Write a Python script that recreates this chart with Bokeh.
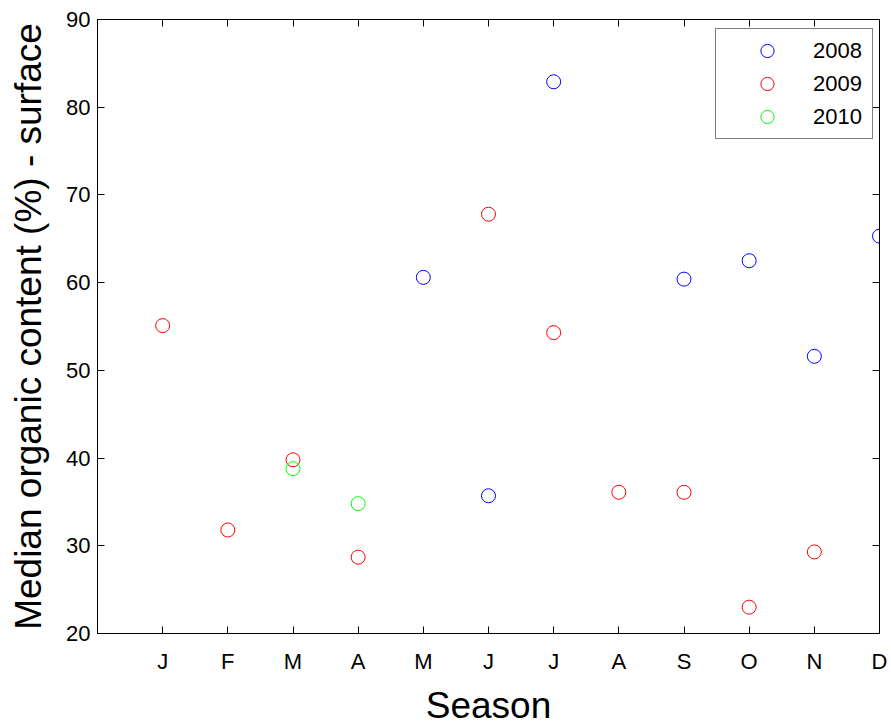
from bokeh.plotting import figure
from bokeh.models import LinearAxis, FixedTicker, Range1d, Legend, LegendItem
from bokeh.embed import file_html
from bokeh.resources import INLINE

month_ticks = [0, 1, 2, 3, 4, 5, 6, 7, 8, 9, 10, 11, 12]
month_labels = ["", "J", "F", "M", "A", "M", "J", "J", "A", "S", "O", "N", "D"]
y_ticks = [20, 30, 40, 50, 60, 70, 80, 90]

x2008 = [5, 6, 7, 9, 10, 11, 12]
y2008 = [60.6, 35.7, 82.9, 60.4, 62.5, 51.6, 65.3]
x2009 = [1, 2, 3, 4, 6, 7, 8, 9, 10, 11]
y2009 = [55.1, 31.8, 39.8, 28.7, 67.8, 54.3, 36.1, 36.1, 23.0, 29.3]
x2010 = [3, 4]
y2010 = [38.8, 34.8]

FONT = "Liberation Sans"

p = figure(width=891, height=728, output_backend="svg", toolbar_location=None,
           x_range=Range1d(0, 12), y_range=Range1d(20, 90),
           min_border_left=97, min_border_right=12, min_border_top=19, min_border_bottom=94)
p.xgrid.visible = False
p.ygrid.visible = False
p.outline_line_color = "black"
p.outline_line_width = 1
p.background_fill_color = "white"
p.border_fill_color = "white"

r1 = p.scatter(x2008, y2008, marker="circle", size=14, fill_color=None, line_color="#0000ff", line_width=1)
r2 = p.scatter(x2009, y2009, marker="circle", size=14, fill_color=None, line_color="#ff0000", line_width=1)
r3 = p.scatter(x2010, y2010, marker="circle", size=14, fill_color=None, line_color="#00ff00", line_width=1)

def style(ax, ticks, labels=None, show=True):
    ax.ticker = FixedTicker(ticks=ticks)
    ax.major_tick_in = 7
    ax.major_tick_out = 0
    ax.minor_tick_in = 0
    ax.minor_tick_out = 0
    ax.axis_line_color = "black"
    ax.major_tick_line_color = "black"
    if labels is not None:
        ax.major_label_overrides = {t: l for t, l in zip(ticks, labels)}
    if show:
        ax.major_label_text_font = FONT
        ax.major_label_text_font_size = "22px"
        ax.major_label_text_color = "black"
        ax.axis_label_text_font = FONT
        ax.axis_label_text_font_size = "37px"
        ax.axis_label_text_font_style = "normal"
        ax.axis_label_text_color = "black"
    else:
        ax.major_label_text_font_size = "0px"
        ax.major_label_standoff = 0
        ax.axis_label = None

style(p.xaxis[0], month_ticks, month_labels)
p.xaxis[0].axis_label = "Season"
p.xaxis[0].major_label_standoff = 15
p.xaxis[0].axis_label_standoff = 8
style(p.yaxis[0], y_ticks)
p.yaxis[0].axis_label = "Median organic content (%) - surface"
p.yaxis[0].major_label_standoff = 7
p.yaxis[0].axis_label_standoff = 14

top = LinearAxis()
style(top, month_ticks, [""] * len(month_ticks), show=False)
p.add_layout(top, "above")
right = LinearAxis()
style(right, y_ticks, [""] * len(y_ticks), show=False)
p.add_layout(right, "right")

legend = Legend(items=[LegendItem(label="2008", renderers=[r1]),
                       LegendItem(label="2009", renderers=[r2]),
                       LegendItem(label="2010", renderers=[r3])],
                location=(618, 494), padding=5, margin=0, spacing=0,
                glyph_width=92, glyph_height=33, label_height=33, label_width=54,
                label_standoff=0,
                label_text_font=FONT, label_text_font_size="22px", label_text_color="black",
                border_line_color="black", border_line_width=1,
                background_fill_color="white", background_fill_alpha=1)
p.add_layout(legend, "center")

open("out.html", "w").write(file_html(p, INLINE))
